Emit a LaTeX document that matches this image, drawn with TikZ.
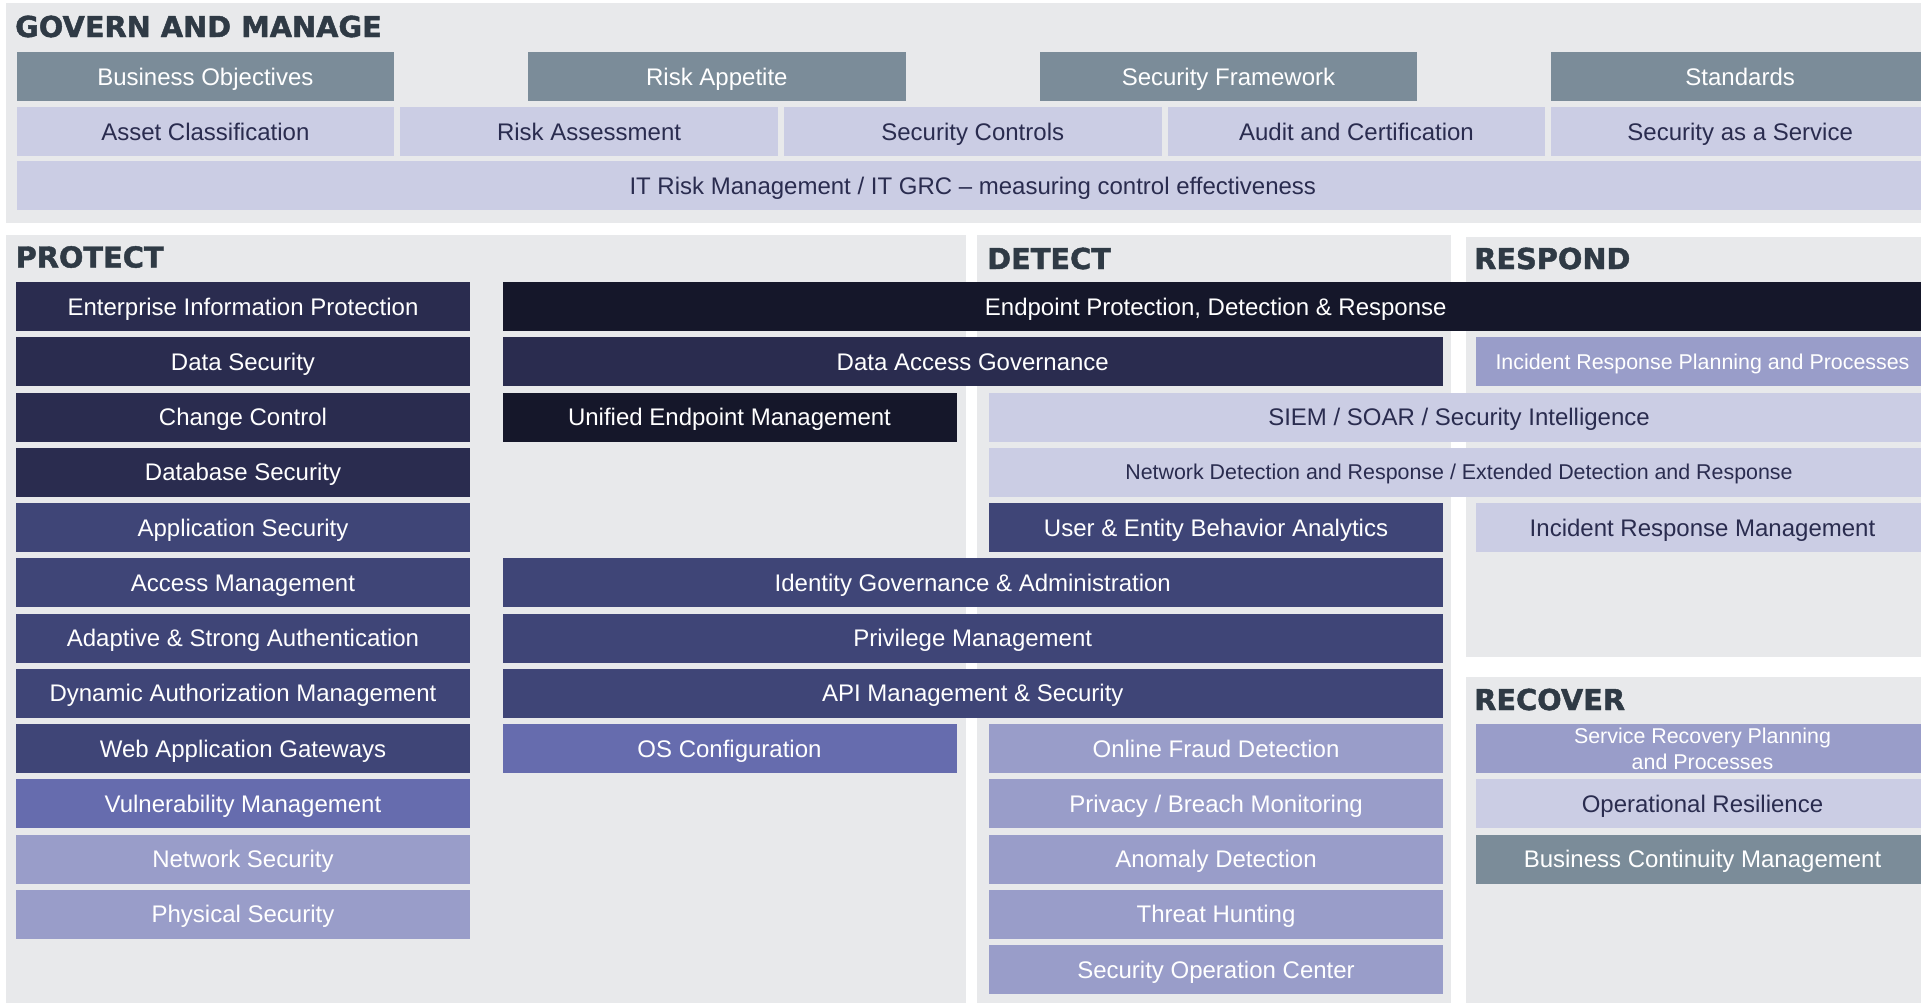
\documentclass[tikz,border=0pt]{standalone}
\usepackage{fontspec}
\setmainfont{Liberation Sans}
\newfontfamily\headfont{DejaVu Sans}[BoldFeatures={FakeBold=1.6}]
\definecolor{panel}{HTML}{E8E9EB}
\definecolor{slate}{HTML}{7B8C99}
\definecolor{lav}{HTML}{CBCDE4}
\definecolor{navyA}{HTML}{2A2C4F}
\definecolor{navyB}{HTML}{15172A}
\definecolor{navyC}{HTML}{3F4577}
\definecolor{violetA}{HTML}{666CAE}
\definecolor{violetB}{HTML}{999DC9}
\definecolor{ink}{HTML}{2A2C4F}
\definecolor{titleink}{HTML}{2F3A45}
\begin{document}
\begin{tikzpicture}[x=1pt,y=-1pt,
  cell/.style={rectangle, inner sep=0pt, outer sep=0pt, anchor=north west,
    minimum height=49pt, font=\fontsize{24}{28}\selectfont,
    text height=17.2pt, text depth=0pt, text=white},
  small/.style={font=\fontsize{21.4}{26}\selectfont, text height=15.3pt},
  colA/.style={minimum width=454pt},
  cslate/.style={cell, fill=slate},
  clav/.style={cell, fill=lav, text=ink},
  cdark/.style={cell, fill=navyA},
  cblack/.style={cell, fill=navyB},
  cmid/.style={cell, fill=navyC},
  cviol/.style={cell, fill=violetA},
  clight/.style={cell, fill=violetB},
  gov/.style={minimum width=377.7pt},
  head/.style={anchor=base west, inner sep=0pt,
    font=\headfont\bfseries\fontsize{28.8}{30}\selectfont, text=titleink}
]
\path[use as bounding box] (0,0) rectangle (1921,1005);
\clip (0,0) rectangle (1921,1005);

% panels
\fill[panel] (6,3) rectangle (1945,223);
\fill[panel] (6,235) rectangle (966,1003);
\fill[panel] (977,235) rectangle (1451,1003);
\fill[panel] (1466,237) rectangle (1945,657);
\fill[panel] (1466,677) rectangle (1945,1003);

% headings
\node[head] (govern) at (15,37) {GOVERN AND MANAGE};
\node[head] (protect) at (15.5,267.5) {PROTECT};
\node[head] (detect) at (987,269) {DETECT};
\node[head] (respond) at (1474,269) {RESPOND};
\node[head] (recover) at (1474,710) {RECOVER};

% govern and manage
\node[cslate,gov] (bo) at (16.5,52) {Business Objectives};
\node[cslate,gov] (ra) at (528,52) {Risk Appetite};
\node[cslate,gov] (sf) at (1039.6,52) {Security Framework};
\node[cslate,gov] (st) at (1551.3,52) {Standards};
\node[clav,gov] (ac) at (16.5,107) {Asset Classification};
\node[clav,gov] (ras) at (400.2,107) {Risk Assessment};
\node[clav,gov] (sc) at (783.9,107) {Security Controls};
\node[clav,gov] (aud) at (1167.6,107) {Audit and Certification};
\node[clav,gov] (saas) at (1551.3,107) {Security as a Service};
\node[clav,minimum width=1912.5pt] (itrm) at (16.5,161) {IT Risk Management / IT GRC -- measuring control effectiveness};

% protect column
\node[cdark,colA] (eip) at (16,282) {Enterprise Information Protection};
\node[cdark,colA] (ds) at (16,337.25) {Data Security};
\node[cdark,colA] (cc) at (16,392.5) {Change Control};
\node[cdark,colA] (dbs) at (16,447.75) {Database Security};
\node[cmid,colA] (aps) at (16,503) {Application Security};
\node[cmid,colA] (am) at (16,558.25) {Access Management};
\node[cmid,colA] (asa) at (16,613.5) {Adaptive \& Strong Authentication};
\node[cmid,colA] (dam) at (16,668.75) {Dynamic Authorization Management};
\node[cmid,colA] (wag) at (16,724) {Web Application Gateways};
\node[cviol,colA] (vm) at (16,779.25) {Vulnerability Management};
\node[clight,colA] (ns) at (16,834.5) {Network Security};
\node[clight,colA] (ps) at (16,889.75) {Physical Security};

% middle / detect
\node[cblack,minimum width=1426.5pt] (epdr) at (502.5,282) {Endpoint Protection, Detection \& Response};
\node[cdark,minimum width=940.5pt] (dag) at (502.5,337.25) {Data Access Governance};
\node[cblack,colA] (uem) at (502.5,392.5) {Unified Endpoint Management};
\node[clav,minimum width=940pt] (siem) at (989,392.5) {SIEM / SOAR / Security Intelligence};
\node[clav,small,minimum width=940pt] (ndr) at (989,447.75) {Network Detection and Response / Extended Detection and Response};
\node[cmid,colA] (ueba) at (989,503) {User \& Entity Behavior Analytics};
\node[cmid,minimum width=940.5pt] (iga) at (502.5,558.25) {Identity Governance \& Administration};
\node[cmid,minimum width=940.5pt] (pm) at (502.5,613.5) {Privilege Management};
\node[cmid,minimum width=940.5pt] (api) at (502.5,668.75) {API Management \& Security};
\node[cviol,colA] (osc) at (502.5,724) {OS Configuration};
\node[clight,colA] (ofd) at (989,724) {Online Fraud Detection};
\node[clight,colA] (pbm) at (989,779.25) {Privacy / Breach Monitoring};
\node[clight,colA] (ad) at (989,834.5) {Anomaly Detection};
\node[clight,colA] (th) at (989,889.75) {Threat Hunting};
\node[clight,colA] (soc) at (989,945) {Security Operation Center};

% respond
\node[clight,small,colA] (irpp) at (1475.5,337.25) {Incident Response Planning and Processes};
\node[clav,colA] (irm) at (1475.5,503) {Incident Response Management};

% recover
\node[clight,colA,align=center,font=\fontsize{21.4}{26}\selectfont,text height=,text depth=] (srpp) at (1475.5,724) {Service Recovery Planning\\and Processes};
\node[clav,colA] (opr) at (1475.5,779.25) {Operational Resilience};
\node[cslate,colA] (bcm) at (1475.5,834.5) {Business Continuity Management};
\end{tikzpicture}
\end{document}
